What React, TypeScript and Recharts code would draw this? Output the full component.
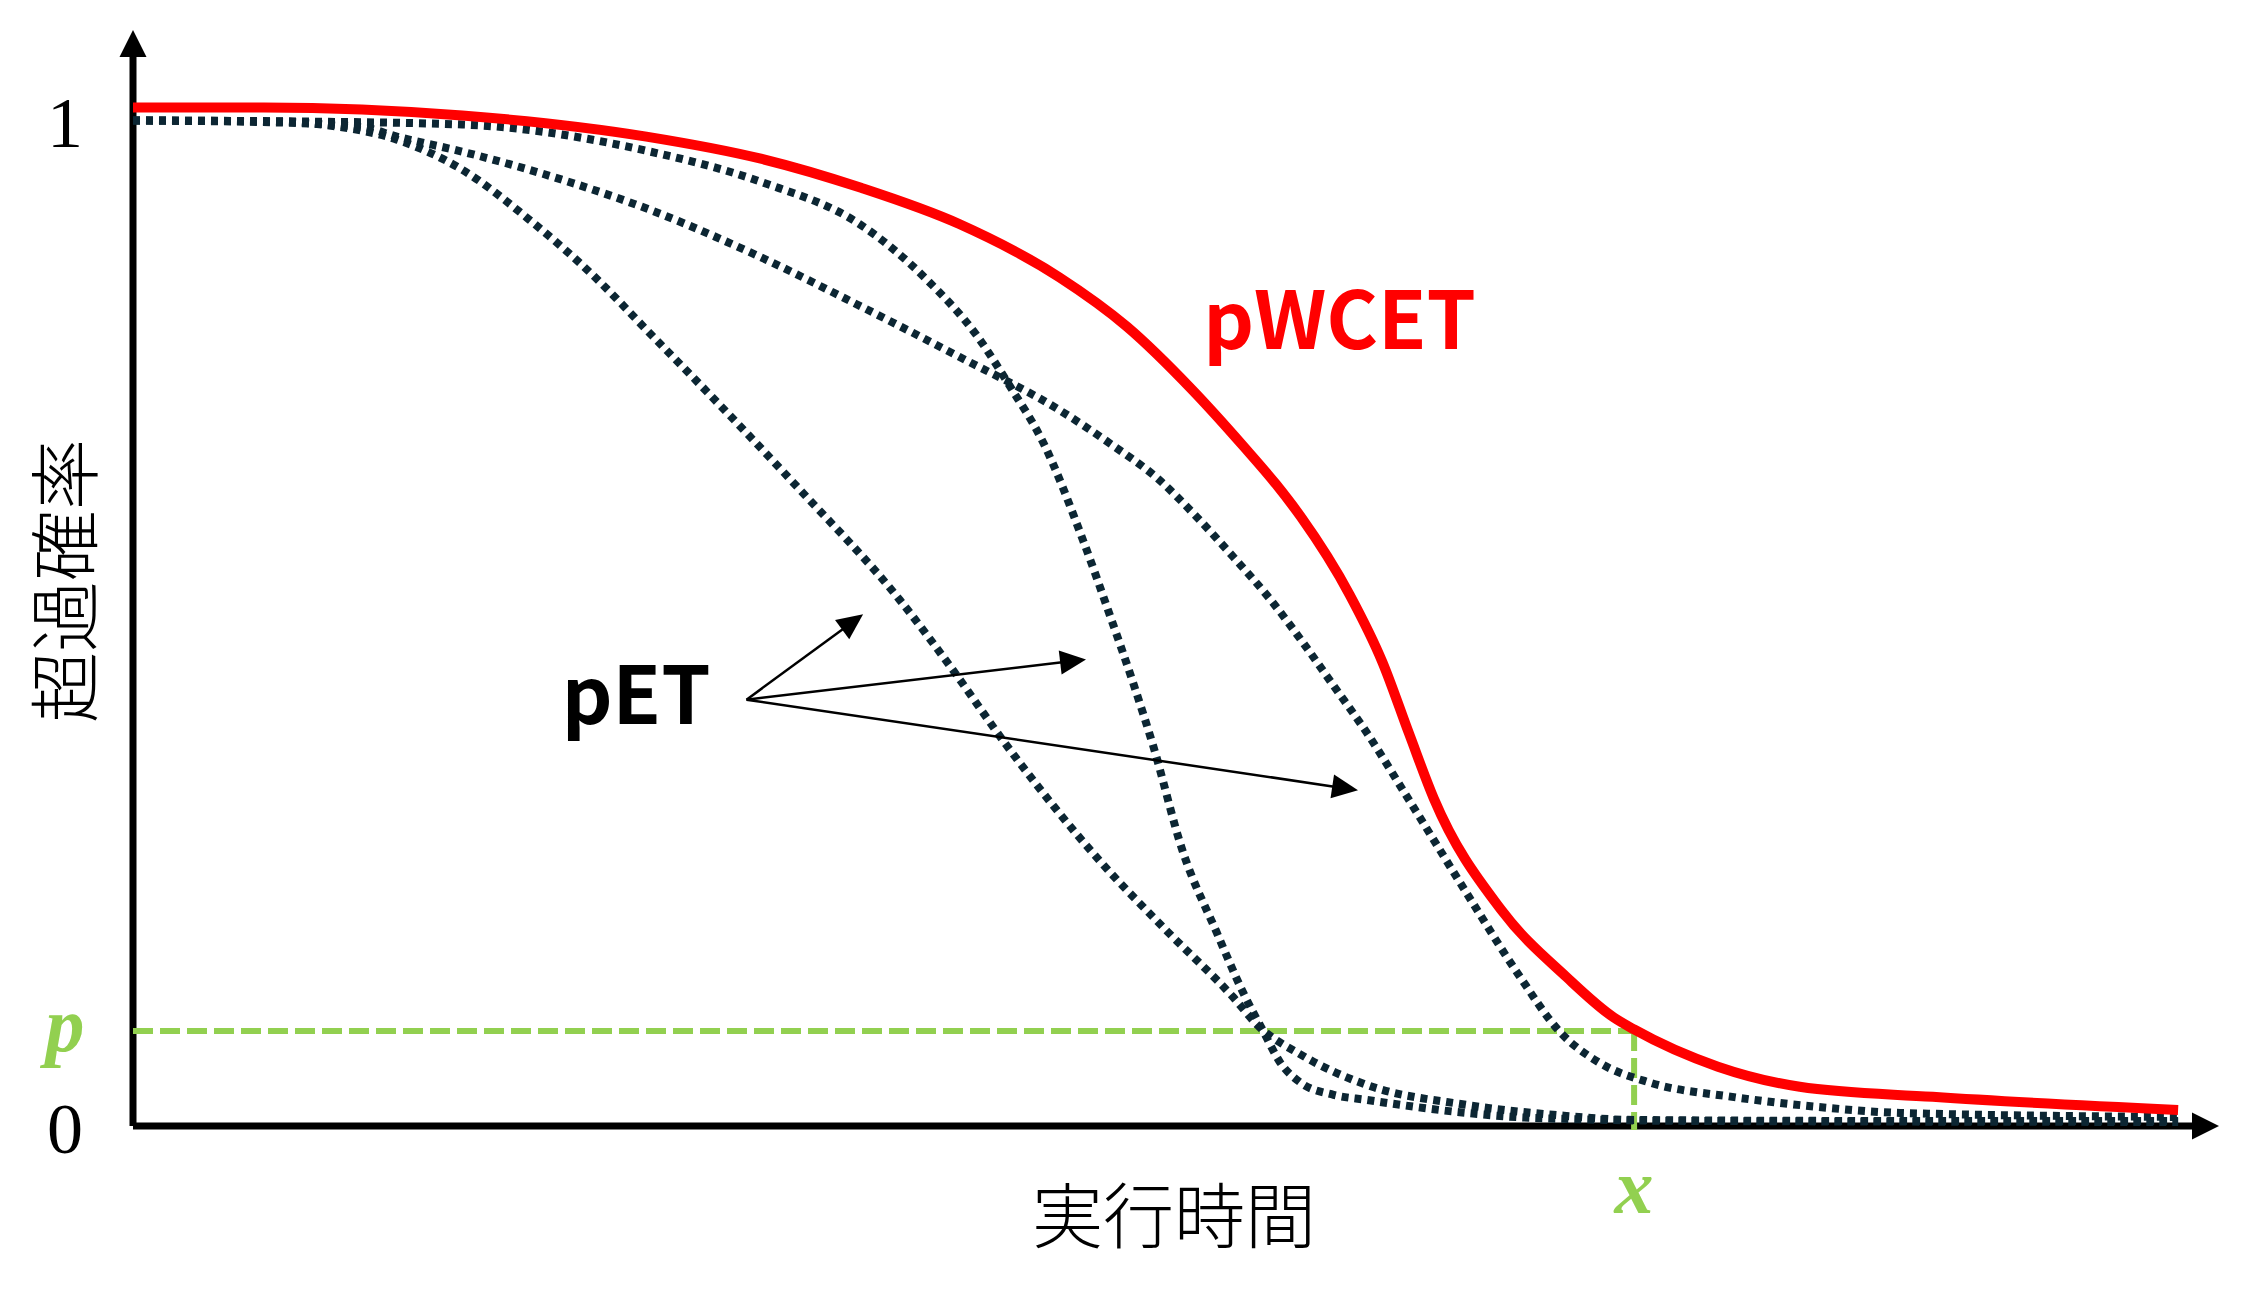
import React from 'react'
import {
  LineChart, Line, XAxis, YAxis, ReferenceLine, ReferenceDot, Label,
} from 'recharts'

// 実行時間 (x, arbitrary units) vs 超過確率 (exceedance probability)
const pwcet = [
  { t: 0, p: 1.013 }, { t: 6.4, p: 1.013 }, { t: 16.1, p: 1.005 }, { t: 25.1, p: 0.984 },
  { t: 30.7, p: 0.962 }, { t: 35.6, p: 0.933 }, { t: 40.4, p: 0.897 }, { t: 45.3, p: 0.844 },
  { t: 48.6, p: 0.795 }, { t: 51.8, p: 0.732 }, { t: 54.3, p: 0.676 }, { t: 55.9, p: 0.638 },
  { t: 57.1, p: 0.606 }, { t: 59.5, p: 0.528 }, { t: 61.1, p: 0.461 }, { t: 62.4, p: 0.39 },
  { t: 63.6, p: 0.326 }, { t: 66.9, p: 0.215 }, { t: 70.1, p: 0.148 }, { t: 72.4, p: 0.108 },
  { t: 73.4, p: 0.096 }, { t: 77.5, p: 0.059 }, { t: 81.5, p: 0.039 }, { t: 88.0, p: 0.029 },
  { t: 100, p: 0.016 },
]

const petA = [
  { t: 0, p: 1.0 }, { t: 7.2, p: 0.999 }, { t: 9.6, p: 0.995 }, { t: 12.9, p: 0.981 },
  { t: 16.1, p: 0.951 }, { t: 19.4, p: 0.901 }, { t: 22.7, p: 0.842 }, { t: 25.1, p: 0.792 },
  { t: 28.6, p: 0.719 }, { t: 32.6, p: 0.633 }, { t: 37.5, p: 0.523 }, { t: 40.0, p: 0.456 },
  { t: 42.7, p: 0.379 }, { t: 47.3, p: 0.263 }, { t: 50.6, p: 0.193 }, { t: 53.8, p: 0.128 },
  { t: 55.0, p: 0.1 }, { t: 57.1, p: 0.071 }, { t: 60.3, p: 0.041 }, { t: 65.2, p: 0.021 },
  { t: 70.1, p: 0.01 }, { t: 73.4, p: 0.006 }, { t: 86.4, p: 0.005 }, { t: 100, p: 0.005 },
]

const petB = [
  { t: 0, p: 1.0 }, { t: 8.2, p: 0.999 }, { t: 16.1, p: 0.996 }, { t: 25.3, p: 0.969 },
  { t: 30.7, p: 0.939 }, { t: 35.6, p: 0.896 }, { t: 38.8, p: 0.842 }, { t: 41.3, p: 0.785 },
  { t: 42.9, p: 0.735 }, { t: 44.5, p: 0.68 }, { t: 46.5, p: 0.58 }, { t: 47.8, p: 0.506 },
  { t: 48.9, p: 0.441 }, { t: 49.9, p: 0.377 }, { t: 51.3, p: 0.275 }, { t: 53.0, p: 0.192 },
  { t: 54.3, p: 0.132 }, { t: 55.3, p: 0.093 }, { t: 56.1, p: 0.063 }, { t: 57.1, p: 0.043 },
  { t: 58.7, p: 0.031 }, { t: 60.3, p: 0.026 }, { t: 65.2, p: 0.013 }, { t: 68.5, p: 0.008 },
  { t: 76.6, p: 0.005 }, { t: 100, p: 0.004 },
]

const petC = [
  { t: 0, p: 1.0 }, { t: 7.2, p: 0.998 }, { t: 11.3, p: 0.993 }, { t: 12.9, p: 0.984 },
  { t: 16.1, p: 0.969 }, { t: 21.0, p: 0.941 }, { t: 25.3, p: 0.911 }, { t: 30.7, p: 0.864 },
  { t: 35.6, p: 0.815 }, { t: 40.4, p: 0.765 }, { t: 45.3, p: 0.712 }, { t: 47.9, p: 0.677 },
  { t: 50.1, p: 0.644 }, { t: 52.0, p: 0.606 }, { t: 53.8, p: 0.566 }, { t: 55.6, p: 0.524 },
  { t: 57.2, p: 0.481 }, { t: 58.7, p: 0.438 }, { t: 60.3, p: 0.392 }, { t: 62.4, p: 0.324 },
  { t: 65.2, p: 0.232 }, { t: 67.7, p: 0.152 }, { t: 69.8, p: 0.093 }, { t: 71.7, p: 0.063 },
  { t: 74.2, p: 0.043 }, { t: 78.2, p: 0.029 }, { t: 82.4, p: 0.019 }, { t: 86.4, p: 0.013 },
  { t: 100, p: 0.009 },
]

const P_LEVEL = 0.0945
const X_LEVEL = 73.4
const X_MAX = 102
const Y_MAX = 1.09

// pET label arrow: origin and three targets
const arrowFrom = { t: 30.0, p: 0.424 }
const arrowTargets = [
  { t: 35.7, p: 0.509 },
  { t: 46.6, p: 0.464 },
  { t: 59.9, p: 0.334 },
]

const GREEN = '#92D050'
const DOTS = '#0C2633'
const SERIF = '"Liberation Serif", "Times New Roman", serif'
const CJK = '"Noto Sans CJK JP", sans-serif'

function makeArrow(len: number, wid: number) {
  return (props: any) => {
    const { x1, y1, x2, y2, stroke, strokeWidth } = props
    const dx = x2 - x1
    const dy = y2 - y1
    const d = Math.sqrt(dx * dx + dy * dy) || 1
    const ux = dx / d
    const uy = dy / d
    const bx = x2 - ux * len
    const by = y2 - uy * len
    const px = -uy * wid / 2
    const py = ux * wid / 2
    return (
      <g>
        <line x1={x1} y1={y1} x2={bx + ux * 2} y2={by + uy * 2} stroke={stroke} strokeWidth={strokeWidth} />
        <polygon points={`${x2},${y2} ${bx + px},${by + py} ${bx - px},${by - py}`} fill={stroke} />
      </g>
    )
  }
}

const axisArrow = makeArrow(27, 27)
const smallArrow = makeArrow(26, 24)

const YTick = (props: any) => {
  const { x, y, payload } = props
  const v = payload.value
  if (v === P_LEVEL) {
    return (
      <text x={x - 68} y={y + 20} textAnchor="middle" fill={GREEN}
        fontFamily={SERIF} fontStyle="italic" fontWeight="bold" fontSize={78}>p</text>
    )
  }
  return (
    <text x={x - 68} y={y + 27} textAnchor="middle" fill="#000"
      fontFamily={SERIF} fontSize={72}>{v}</text>
  )
}

const XTick = (props: any) => {
  const { x, y } = props
  return (
    <text x={x} y={y + 87} textAnchor="middle" fill={GREEN}
      fontFamily={SERIF} fontStyle="italic" fontWeight="bold" fontSize={78}>x</text>
  )
}

export default function App() {
  return (
    <div style={{ position: 'absolute', left: 0, top: 0, background: '#fff' }}>
      <LineChart width={2248} height={1306} margin={{ top: 30, right: 29, left: 0, bottom: 0 }}>
        <XAxis
          type="number" dataKey="t" domain={[0, X_MAX]} ticks={[X_LEVEL]}
          axisLine={false} tickLine={false} tickSize={0} tickMargin={0}
          height={180} tick={<XTick />} allowDataOverflow
        >
          <Label content={(p: any) => {
            const vb = p.viewBox
            return (
              <text x={vb.x + vb.width / 2 - 2} y={vb.y + 85} textAnchor="middle"
                dominantBaseline="central" fontFamily={CJK} fontWeight={300} fontSize={71} fill="#000">実行時間</text>
            )
          }} />
        </XAxis>
        <YAxis
          type="number" dataKey="p" domain={[0, Y_MAX]} ticks={[0, P_LEVEL, 1]}
          axisLine={false} tickLine={false} tickSize={0} tickMargin={0}
          width={133} tick={<YTick />} allowDataOverflow
        >
          <Label content={(p: any) => {
            const vb = p.viewBox
            const cx = vb.x + 60
            const cy = vb.y + vb.height / 2 + 3
            return (
              <text x={cx} y={cy} textAnchor="middle" dominantBaseline="central"
                transform={`rotate(-90 ${cx} ${cy})`}
                fontFamily={CJK} fontWeight={300} fontSize={71} fill="#000">超過確率</text>
            )
          }} />
        </YAxis>

        {/* axes with arrowheads */}
        <ReferenceLine segment={[{ x: 0, y: 0 }, { x: X_MAX, y: 0 }]} stroke="#000" strokeWidth={7}
          shape={axisArrow} ifOverflow="visible" />
        <ReferenceLine segment={[{ x: 0, y: 0 }, { x: 0, y: Y_MAX }]} stroke="#000" strokeWidth={7}
          shape={axisArrow} ifOverflow="visible" />

        {/* p / x guides */}
        <ReferenceLine segment={[{ x: 0, y: P_LEVEL }, { x: X_LEVEL, y: P_LEVEL }]}
          stroke={GREEN} strokeWidth={6} strokeDasharray="20 7" ifOverflow="visible" />
        <ReferenceLine segment={[{ x: X_LEVEL, y: P_LEVEL }, { x: X_LEVEL, y: -0.004 }]}
          stroke={GREEN} strokeWidth={6} strokeDasharray="20 7" ifOverflow="visible" />

        <Line data={petA} dataKey="p" type="monotone" stroke={DOTS} strokeWidth={8}
          strokeDasharray="7 6" dot={false} isAnimationActive={false} />
        <Line data={petB} dataKey="p" type="monotone" stroke={DOTS} strokeWidth={8}
          strokeDasharray="7 6" dot={false} isAnimationActive={false} />
        <Line data={petC} dataKey="p" type="monotone" stroke={DOTS} strokeWidth={8}
          strokeDasharray="7 6" dot={false} isAnimationActive={false} />
        <Line data={pwcet} dataKey="p" type="monotone" stroke="#FF0000" strokeWidth={10}
          dot={false} isAnimationActive={false} />

        {arrowTargets.map((a, i) => (
          <ReferenceLine key={i} segment={[{ x: arrowFrom.t, y: arrowFrom.p }, { x: a.t, y: a.p }]}
            stroke="#000" strokeWidth={2.5} shape={smallArrow} ifOverflow="visible" />
        ))}

        <ReferenceDot x={59.0} y={0.773} r={0} ifOverflow="visible"
          shape={(p: any) => (
            <text x={p.cx} y={p.cy} textAnchor="middle" fill="#FF0000"
              fontFamily={CJK} fontWeight="bold" fontSize={79}>pWCET</text>
          )} />
        <ReferenceDot x={24.6} y={0.4} r={0} ifOverflow="visible"
          shape={(p: any) => (
            <text x={p.cx} y={p.cy} textAnchor="middle" fill="#000"
              fontFamily={CJK} fontWeight="bold" fontSize={79}>pET</text>
          )} />
      </LineChart>
    </div>
  )
}
